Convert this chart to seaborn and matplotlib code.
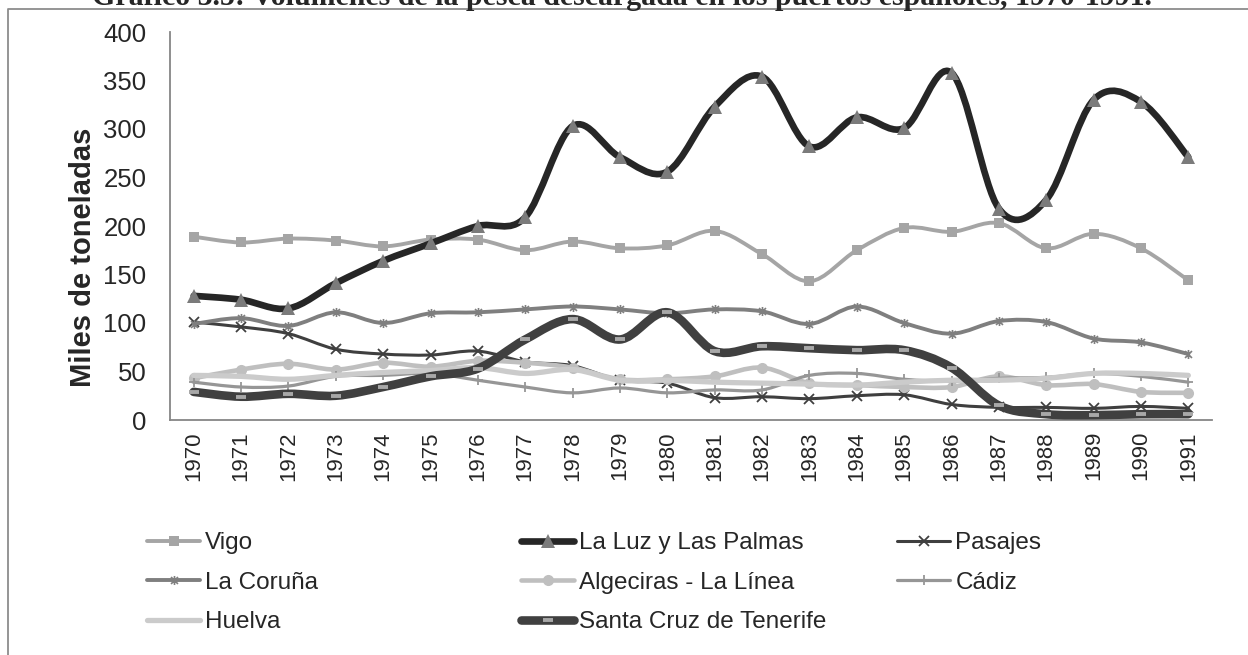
import numpy as np
import seaborn as sns
import matplotlib.pyplot as plt
from matplotlib.path import Path
from matplotlib.patches import PathPatch
from matplotlib.lines import Line2D

# ---------- datos (miles de toneladas) ---------- #
years = list(range(1970, 1992))
vigo       = [189, 183, 187, 185, 179, 186, 186, 175, 184, 177, 180, 195, 171, 143, 175, 198, 194, 203, 177, 192, 177, 144]
la_luz     = [128, 124, 115, 141, 164, 182, 200, 209, 303, 271, 256, 323, 354, 282, 312, 301, 358, 218, 227, 330, 328, 271]
pasajes    = [101, 96, 89, 73, 68, 67, 71, 60, 56, 41, 38, 23, 24, 22, 25, 26, 16, 13, 13, 12, 14, 12]
la_coruna  = [99, 105, 97, 111, 100, 110, 111, 114, 117, 114, 110, 114, 112, 99, 117, 100, 89, 102, 101, 84, 80, 68]
algeciras  = [43, 52, 58, 52, 59, 55, 61, 59, 54, 42, 42, 45, 54, 38, 36, 34, 34, 45, 36, 37, 29, 28]
cadiz      = [39, 34, 35, 45, 46, 48, 41, 34, 28, 33, 28, 31, 31, 46, 48, 42, 40, 43, 44, 48, 45, 39]
huelva     = [46, 45, 42, 46, 49, 51, 54, 48, 52, 41, 41, 39, 38, 37, 36, 39, 41, 41, 43, 48, 48, 46]
santa_cruz = [29, 24, 27, 25, 34, 45, 53, 83, 104, 83, 111, 71, 76, 74, 72, 72, 54, 15, 6, 5, 6, 6]

names = ['Vigo', 'La Luz y Las Palmas', 'Pasajes', 'La Coruña',
         'Algeciras - La Línea', 'Cádiz', 'Huelva', 'Santa Cruz de Tenerife']
values = [vigo, la_luz, pasajes, la_coruna, algeciras, cadiz, huelva, santa_cruz]

# marcador tipo asterisco de Excel (x + barra vertical)
asterisk = Path([(-1, -1), (1, 1), (-1, 1), (1, -1), (0, -1.3), (0, 1.3)],
                [Path.MOVETO, Path.LINETO] * 3)

# color línea, grosor, marcador, color marcador, tamaño, borde
styles = [
    ('#a5a5a5', 2.8, 's',      '#a5a5a5', 7.5, 0.0),
    ('#262626', 4.8, '^',      '#7b7b7b', 9.5, 0.0),
    ('#3f3f3f', 2.2, 'x',      '#3f3f3f', 6.5, 1.3),
    ('#7f7f7f', 2.8, asterisk, '#7f7f7f', 6.5, 1.2),
    ('#bfbfbf', 3.3, 'o',      '#bfbfbf', 8.0, 0.0),
    ('#969696', 2.3, '+',      '#969696', 7.5, 1.3),
    ('#cbcbcb', 3.8, None,     '#cbcbcb', 0.0, 0.0),
    ('#404040', 6.2, '_',      '#a8a8a8', 6.5, 2.8),
]


def smooth_path(x, y):
    # curva suavizada tipo Excel (Bezier por tramos)
    x = np.asarray(x, float)
    y = np.asarray(y, float)
    n = len(x)
    verts, codes = [(x[0], y[0])], [Path.MOVETO]
    for i in range(n - 1):
        i0, i3 = max(i - 1, 0), min(i + 2, n - 1)
        c1 = (x[i] + (x[i + 1] - x[i0]) / 6, y[i] + (y[i + 1] - y[i0]) / 6)
        c2 = (x[i + 1] - (x[i3] - x[i]) / 6, y[i + 1] - (y[i3] - y[i]) / 6)
        verts += [c1, c2, (x[i + 1], y[i + 1])]
        codes += [Path.CURVE4] * 3
    return Path(verts, codes)


sns.set_style('white')
plt.rcParams['font.family'] = ['Liberation Sans', 'DejaVu Sans']

fig = plt.figure(figsize=(12.48, 6.55), dpi=100)
ax = fig.add_axes([170 / 1248, 1 - 420 / 655, 1042 / 1248, 388 / 655])

handles = []
for k, (name, vals, st) in enumerate(zip(names, values, styles)):
    lc, lw, m, mc, ms, mew = st
    ax.add_patch(PathPatch(smooth_path(years, vals), fill=False, edgecolor=lc,
                           lw=lw, capstyle='round', joinstyle='round', zorder=2 + k * 0.1))
    if m is not None:
        sns.lineplot(x=years, y=vals, ax=ax, linestyle='', marker=m, color=mc,
                     markersize=ms, markeredgewidth=mew, markeredgecolor=mc,
                     zorder=2.05 + k * 0.1)
    handles.append(Line2D([], [], color=lc, lw=lw, marker=m, markerfacecolor=mc,
                          markeredgecolor=mc, markersize=ms, markeredgewidth=mew,
                          solid_capstyle='round'))

ax.set_xlim(1969.5, 1991.5)
ax.set_ylim(0, 400)
ax.set_xticks(years)
ax.set_xticklabels([str(y) for y in years], rotation=90, fontsize=16)
ax.set_yticks(range(0, 401, 50))
ax.tick_params(axis='y', labelsize=18.5, length=0, pad=17)
ax.tick_params(axis='x', length=0, pad=8)
for s in ['top', 'right']:
    ax.spines[s].set_visible(False)
for s in ['left', 'bottom']:
    ax.spines[s].set_color('#868686')
    ax.spines[s].set_linewidth(1.3)
ax.set_xlabel('')
ax.set_ylabel('Miles de toneladas', fontsize=21, fontweight='bold')
ax.yaxis.set_label_coords(-0.07, 0.42)

# leyenda en tres columnas (orden por filas como en Excel)
col_x = [147, 521, 897]
cols = [[0, 3, 6], [1, 4, 7], [2, 5]]
for cx, idx in zip(col_x, cols):
    leg = fig.legend([handles[i] for i in idx], [names[i] for i in idx],
                     loc='upper left', bbox_to_anchor=(cx / 1248, 1 - 532 / 655),
                     frameon=False, fontsize=17.5, handlelength=2.2,
                     handletextpad=0.2, borderpad=0, borderaxespad=0,
                     labelspacing=0.72, numpoints=1)

# marco del gráfico y título (cortado arriba)
fig.add_artist(Line2D([8 / 1248, 8 / 1248, 1.0], [0.0, 1 - 9 / 655, 1 - 9 / 655],
                      transform=fig.transFigure, color='#8c8c8c', lw=1.3))
fig.text(0.498, 1 - 5 / 655,
         'Gráfico 3.5: Volúmenes de la pesca descargada en los puertos españoles, 1970-1991.',
         ha='center', va='baseline', fontsize=21.5, fontweight='bold',
         family=['Liberation Serif', 'DejaVu Serif'])

fig.savefig('out.png', dpi=100)
